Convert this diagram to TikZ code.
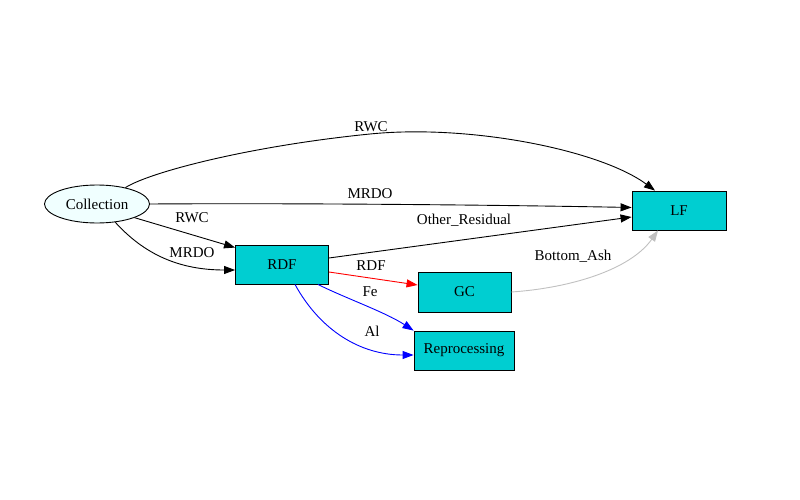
\documentclass[tikz,border=0pt]{standalone}
\usepackage{fontspec}
\setmainfont{Liberation Serif}
\usetikzlibrary{arrows.meta,shapes.geometric}
\definecolor{turq}{HTML}{00CED1}
\definecolor{azure}{HTML}{F0FFFF}
\definecolor{edgegray}{HTML}{C0C0C0}
\begin{document}
\begin{tikzpicture}[x=1pt,y=-1pt,
  font=\fontsize{15pt}{17pt}\selectfont,
  ell/.style={ellipse,draw=black,fill=azure,line width=0.9pt,minimum width=105pt,minimum height=38pt,inner sep=0pt},
  box/.style={rectangle,draw=black,fill=turq,line width=0.9pt,minimum height=39pt,inner sep=0pt},
  edge/.style={line width=0.9pt,-{Triangle[length=11pt,width=8pt]}},
  lbl/.style={inner sep=0pt}]
\useasboundingbox (0,0) rectangle (800,500);
\node[ell] (col) at (97,204) {Collection};
\node[box,minimum width=93pt] (rdf) at (282,264.5) {RDF};
\node[box,minimum width=94pt] (lf) at (679,210.5) {LF};
\node[box,minimum width=93pt,minimum height=40pt] (gc) at (464.5,292) {GC};
\node[box,minimum width=100pt] (rep) at (464,350.5) {Reprocessing};

\draw[edge] (col.30) .. controls (150,172) and (250,146) .. (370,134)
   .. controls (470,124) and (600,150) .. ([xshift=-24pt]lf.north)
   node[lbl] at (371,127) {RWC};
\draw[edge] (col.east) .. controls (300,203) and (500,205) .. ([yshift=3pt]lf.west)
   node[lbl] at (370,194) {MRDO};
\draw[edge] (col.-20) -- ([yshift=-3pt]rdf.north west)
   node[lbl] at (192,218) {RWC};
\draw[edge] (col.-45) .. controls (145,255) and (180,270) .. ([yshift=-5.5pt]rdf.west)
   node[lbl] at (192,253) {MRDO};
\draw[edge] ([yshift=6.5pt]rdf.east) -- ([yshift=-6.5pt]lf.west)
   node[lbl] at (464,220) {Other\_Residual};
\draw[edge,red] ([yshift=-7.5pt]rdf.east) -- ([yshift=7pt]gc.west)
   node[lbl,black] at (371,266) {RDF};
\draw[edge,blue] ([xshift=36pt]rdf.south) .. controls (345,298) and (385,312) .. (rep.north west)
   node[lbl,black] at (370,292) {Fe};
\draw[edge,blue] ([xshift=13pt]rdf.south) .. controls (320,330) and (360,355) .. ([yshift=-4.5pt]rep.west)
   node[lbl,black] at (372,331) {Al};
\draw[edge,edgegray] (gc.east) .. controls (570,288) and (630,270) .. ([xshift=-21pt]lf.south)
   node[lbl,black] at (573,256) {Bottom\_Ash};
\end{tikzpicture}
\end{document}
